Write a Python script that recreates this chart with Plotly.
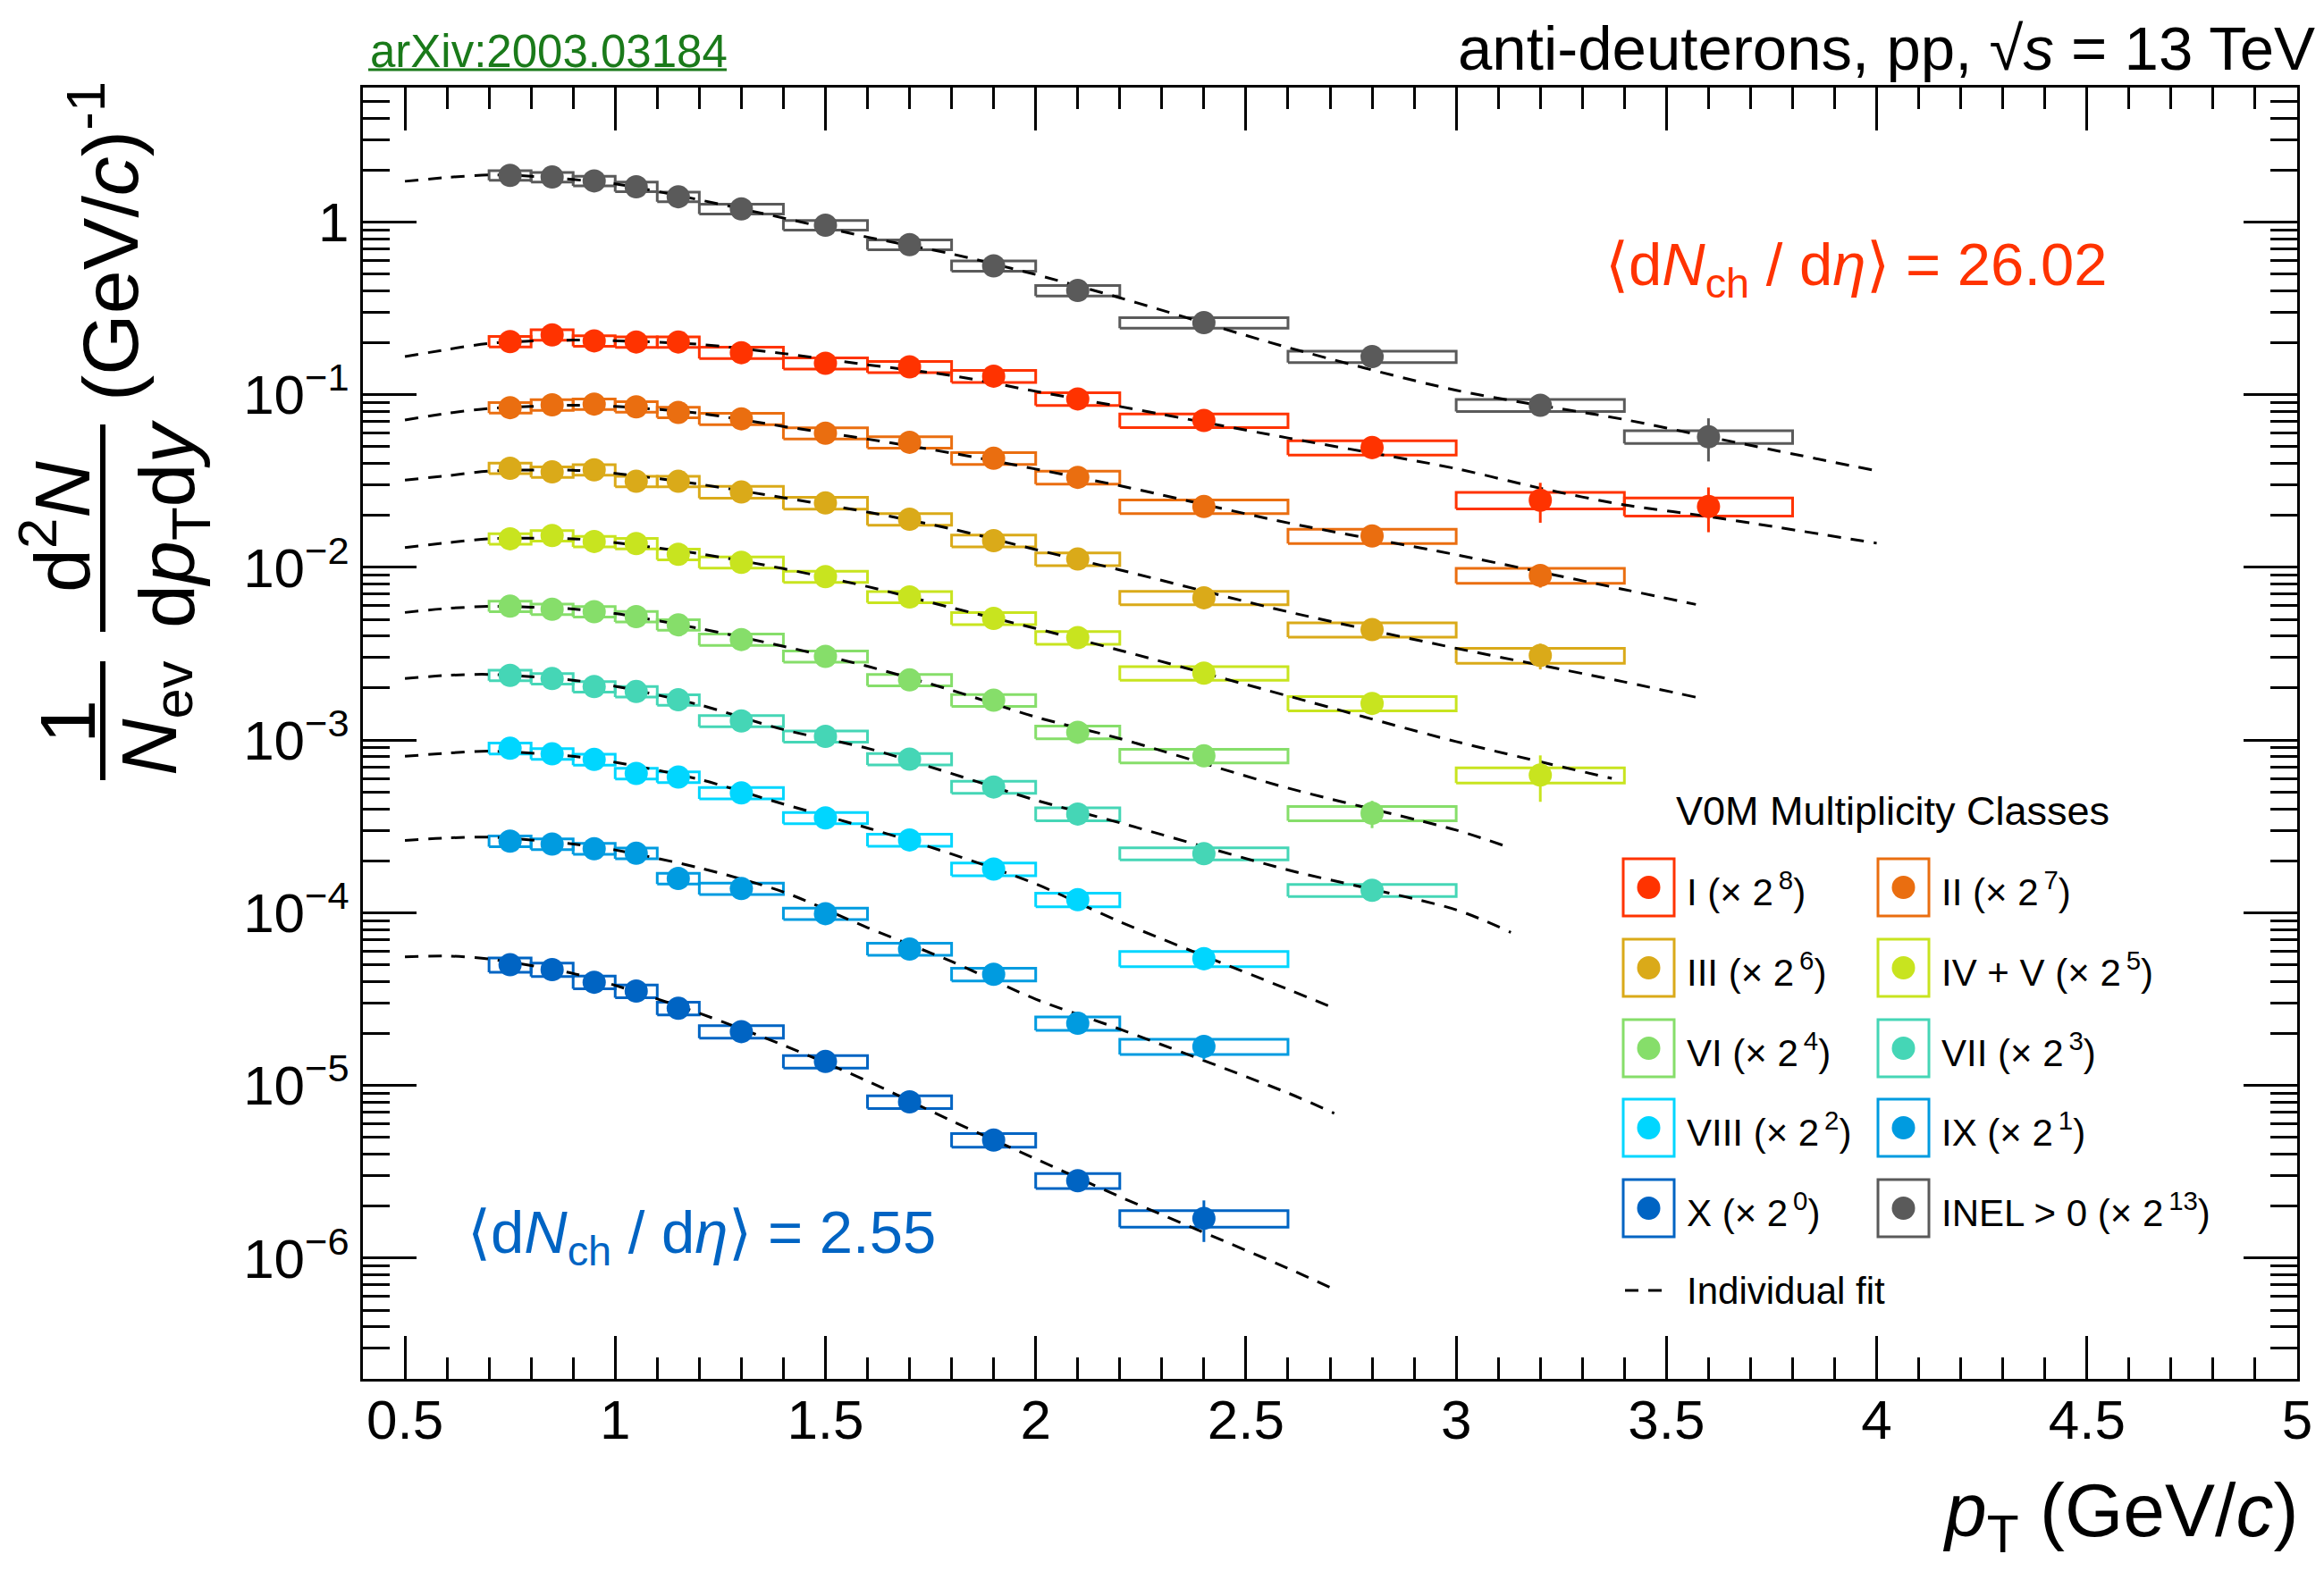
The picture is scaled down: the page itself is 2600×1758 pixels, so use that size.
import math
import plotly.graph_objects as go

# ---------------------------------------------------------------- data
# pT bins (GeV/c)
BIN_LO = [0.7, 0.8, 0.9, 1.0, 1.1, 1.2, 1.4, 1.6, 1.8, 2.0, 2.2, 2.6, 3.0, 3.4]
BIN_HI = [0.8, 0.9, 1.0, 1.1, 1.2, 1.4, 1.6, 1.8, 2.0, 2.2, 2.6, 3.0, 3.4, 3.8]

CLASS_LABELS = ["I", "II", "III", "IV + V", "VI", "VII", "VIII", "IX", "X", "INEL > 0"]
SCALE_EXPONENTS = [8, 7, 6, 5, 4, 3, 2, 1, 0, 13]
CLASS_COLORS = ["#FF3300", "#EA6E10", "#DAAA19", "#C8E41F", "#86DE6A",
                "#45D6B6", "#00D6FF", "#009BE0", "#0064C3", "#5A5A5A"]

# scaled yields 1/Nev d2N/(dpT dy), one entry per pT bin
YIELD_I = [0.203, 0.222, 0.205, 0.202, 0.202, 0.175, 0.152, 0.145, 0.128, 0.0945, 0.0709, 0.0494, 0.0245, 0.0225]
YIELD_II = [0.0841, 0.0873, 0.0882, 0.0850, 0.0789, 0.0725, 0.0598, 0.0530, 0.0428, 0.0332, 0.0225, 0.0152, 0.00898]
YIELD_III = [0.0375, 0.0357, 0.0367, 0.0315, 0.0315, 0.0273, 0.0236, 0.0190, 0.01426, 0.01117, 0.00667, 0.00436, 0.00309]
YIELD_IV_V = [0.01464, 0.01528, 0.01413, 0.01374, 0.01190, 0.01070, 0.00884, 0.00674, 0.00506, 0.00392, 0.00244, 0.00163, 0.000627]
YIELD_VI = [0.00596, 0.00572, 0.00554, 0.00519, 0.00465, 0.00382, 0.00305, 0.00223, 0.00170, 0.00111, 0.00081, 0.000377]
YIELD_VII = [0.00237, 0.00227, 0.00204, 0.00191, 0.00171, 0.00129, 0.00105, 0.000776, 0.000535, 0.000373, 0.000220, 0.000135]
YIELD_VIII = [0.000896, 0.000832, 0.000772, 0.000641, 0.000611, 0.000494, 0.000354, 0.000264, 0.000179, 0.000119, 5.42e-5]
YIELD_IX = [0.000260, 0.000250, 0.000235, 0.000221, 0.000158, 0.000138, 9.88e-5, 6.16e-5, 4.40e-5, 2.29e-5, 1.68e-5]
YIELD_X = [5.00e-5, 4.69e-5, 3.96e-5, 3.52e-5, 2.80e-5, 2.05e-5, 1.376e-5, 8.04e-6, 4.83e-6, 2.81e-6, 1.70e-6]
YIELD_INEL = [1.86, 1.82, 1.73, 1.60, 1.40, 1.19, 0.958, 0.739, 0.557, 0.401, 0.261, 0.166, 0.0868, 0.057]

# relative statistical uncertainties
STAT_I = [0.05, 0.04, 0.04, 0.04, 0.04, 0.04, 0.05, 0.06, 0.07, 0.08, 0.10, 0.14, 0.26, 0.29]
STAT_II = [0.04, 0.04, 0.04, 0.04, 0.04, 0.04, 0.05, 0.05, 0.06, 0.07, 0.09, 0.11, 0.15]
STAT_III = [0.04, 0.04, 0.04, 0.04, 0.04, 0.04, 0.05, 0.05, 0.06, 0.07, 0.09, 0.12, 0.17]
STAT_IV_V = [0.03, 0.03, 0.03, 0.03, 0.03, 0.03, 0.04, 0.05, 0.06, 0.07, 0.09, 0.12, 0.30]
STAT_VI = [0.04, 0.04, 0.04, 0.04, 0.04, 0.05, 0.05, 0.06, 0.07, 0.08, 0.10, 0.18]
STAT_VII = [0.04, 0.04, 0.04, 0.04, 0.05, 0.05, 0.06, 0.06, 0.07, 0.09, 0.11, 0.14]
STAT_VIII = [0.04, 0.04, 0.04, 0.05, 0.05, 0.05, 0.06, 0.07, 0.08, 0.10, 0.14]
STAT_IX = [0.04, 0.04, 0.05, 0.05, 0.05, 0.06, 0.06, 0.07, 0.08, 0.11, 0.16]
STAT_X = [0.05, 0.05, 0.05, 0.06, 0.06, 0.06, 0.07, 0.08, 0.10, 0.13, 0.27]
STAT_INEL = [0.02, 0.02, 0.02, 0.02, 0.02, 0.02, 0.02, 0.03, 0.03, 0.04, 0.05, 0.08, 0.13, 0.28]

# relative systematic uncertainties (box half-heights)
SYST_I = [0.07, 0.07, 0.07, 0.07, 0.07, 0.075, 0.075, 0.075, 0.08, 0.085, 0.09, 0.095, 0.11, 0.12]
SYST_II = [0.07, 0.07, 0.07, 0.07, 0.07, 0.075, 0.075, 0.075, 0.08, 0.085, 0.09, 0.095, 0.10]
SYST_III = [0.07, 0.07, 0.07, 0.07, 0.07, 0.078, 0.078, 0.078, 0.08, 0.085, 0.09, 0.095, 0.10]
SYST_IV_V = [0.07, 0.07, 0.07, 0.07, 0.07, 0.075, 0.075, 0.075, 0.08, 0.085, 0.09, 0.095, 0.10]
SYST_VI = [0.07, 0.07, 0.07, 0.07, 0.07, 0.075, 0.075, 0.075, 0.08, 0.085, 0.09, 0.095]
SYST_VII = [0.07, 0.07, 0.07, 0.07, 0.07, 0.075, 0.075, 0.075, 0.08, 0.085, 0.08, 0.08]
SYST_VIII = [0.072, 0.072, 0.072, 0.072, 0.072, 0.075, 0.075, 0.08, 0.085, 0.09, 0.10]
SYST_IX = [0.072, 0.072, 0.072, 0.072, 0.072, 0.075, 0.075, 0.08, 0.085, 0.09, 0.10]
SYST_X = [0.095, 0.09, 0.085, 0.085, 0.085, 0.083, 0.083, 0.085, 0.09, 0.10, 0.11]
SYST_INEL = [0.064, 0.064, 0.064, 0.064, 0.064, 0.065, 0.065, 0.065, 0.068, 0.07, 0.07, 0.075, 0.08, 0.085]

# individual fit curves (pT, value)
FIT_X_I = [0.5, 0.6, 0.7, 0.9, 1.2, 1.4, 1.6, 1.8, 2.0, 2.2, 2.6, 3.0, 3.2, 3.4, 3.6, 4.0]
FIT_Y_I = [0.166, 0.1826, 0.198, 0.207, 0.1956, 0.173, 0.149, 0.129, 0.1046, 0.0854, 0.0561, 0.0373, 0.0287, 0.0230, 0.0197, 0.0138]
FIT_X_II = [0.5, 0.6, 0.7, 0.9, 1.0, 1.2, 1.4, 1.6, 1.8, 2.0, 2.2, 2.6, 3.0, 3.4, 3.57]
FIT_Y_II = [0.0713, 0.078, 0.0832, 0.0868, 0.0855, 0.078, 0.0655, 0.0553, 0.0459, 0.0371, 0.0297, 0.0181, 0.01183, 0.00744, 0.0061]
FIT_X_III = [0.5, 0.6, 0.7, 0.9, 1.0, 1.2, 1.4, 1.6, 1.8, 2.0, 2.2, 2.6, 3.0, 3.4, 3.57]
FIT_Y_III = [0.032, 0.0339, 0.0361, 0.0365, 0.035, 0.0303, 0.0253, 0.0209, 0.0167, 0.01268, 0.00967, 0.00553, 0.0034, 0.00217, 0.00177]
FIT_X_IV_V = [0.5, 0.6, 0.7, 0.9, 1.0, 1.2, 1.4, 1.6, 1.8, 2.0, 2.2, 2.6, 3.0, 3.37]
FIT_Y_IV_V = [0.01303, 0.01388, 0.01464, 0.01464, 0.0139, 0.0120, 0.00983, 0.00774, 0.00584, 0.00443, 0.00331, 0.00180, 0.00098, 0.00060]
FIT_X_VI = [0.5, 0.6, 0.7, 0.9, 1.0, 1.2, 1.4, 1.6, 1.8, 2.0, 2.2, 2.6, 3.0, 3.13]
FIT_Y_VI = [0.00548, 0.00578, 0.00594, 0.00574, 0.0054, 0.00443, 0.00349, 0.002675, 0.001944, 0.00136, 0.00102, 0.000527, 0.000301, 0.000237]
FIT_X_VII = [0.5, 0.6, 0.7, 0.9, 1.0, 1.2, 1.4, 1.6, 1.8, 2.0, 2.2, 2.6, 3.0, 3.13]
FIT_Y_VII = [0.00227, 0.00237, 0.0024, 0.00222, 0.00205, 0.0016, 0.00115, 0.000896, 0.00064, 0.000449, 0.000332, 0.000177, 0.000104, 7.7e-5]
FIT_X_VIII = [0.5, 0.6, 0.7, 0.9, 1.0, 1.2, 1.4, 1.6, 1.8, 2.0, 2.2, 2.6, 2.71]
FIT_Y_VIII = [0.000805, 0.00084, 0.000863, 0.000805, 0.000744, 0.000592, 0.000426, 0.00031, 0.000219, 0.000147, 8.88e-5, 3.6e-5, 2.8e-5]
FIT_X_IX = [0.5, 0.6, 0.7, 0.9, 1.0, 1.2, 1.4, 1.6, 1.8, 2.0, 2.2, 2.6, 2.71]
FIT_Y_IX = [0.000262, 0.000271, 0.000274, 0.00025, 0.000231, 0.000182, 0.000132, 8.2e-5, 5.22e-5, 3.16e-5, 2.12e-5, 9.04e-6, 6.9e-6]
FIT_X_X = [0.5, 0.6, 0.7, 0.9, 1.0, 1.2, 1.4, 1.6, 1.8, 2.0, 2.2, 2.6, 2.71]
FIT_Y_X = [5.56e-5, 5.62e-5, 5.4e-5, 4.45e-5, 3.8e-5, 2.62e-5, 1.71e-5, 1.06e-5, 6.24e-6, 3.76e-6, 2.27e-6, 8.73e-7, 6.6e-7]
FIT_X_INEL = [0.5, 0.6, 0.7, 0.8, 1.0, 1.17, 1.4, 1.6, 1.8, 2.0, 2.2, 2.6, 3.0, 3.4, 3.6, 4.0]
FIT_Y_INEL = [1.72, 1.81, 1.87, 1.84, 1.66, 1.39, 1.054, 0.817, 0.653, 0.496, 0.364, 0.1875, 0.106, 0.0718, 0.057, 0.0362]

Y_TICK_VALUES = [1e-6, 1e-5, 1e-4, 1e-3, 1e-2, 1e-1, 1]
Y_TICK_TEXT = ["10<sup>\u22126</sup>", "10<sup>\u22125</sup>", "10<sup>\u22124</sup>",
               "10<sup>\u22123</sup>", "10<sup>\u22122</sup>", "10<sup>\u22121</sup>", "1"]

SERIES = [
    (YIELD_I, STAT_I, SYST_I, FIT_X_I, FIT_Y_I),
    (YIELD_II, STAT_II, SYST_II, FIT_X_II, FIT_Y_II),
    (YIELD_III, STAT_III, SYST_III, FIT_X_III, FIT_Y_III),
    (YIELD_IV_V, STAT_IV_V, SYST_IV_V, FIT_X_IV_V, FIT_Y_IV_V),
    (YIELD_VI, STAT_VI, SYST_VI, FIT_X_VI, FIT_Y_VI),
    (YIELD_VII, STAT_VII, SYST_VII, FIT_X_VII, FIT_Y_VII),
    (YIELD_VIII, STAT_VIII, SYST_VIII, FIT_X_VIII, FIT_Y_VIII),
    (YIELD_IX, STAT_IX, SYST_IX, FIT_X_IX, FIT_Y_IX),
    (YIELD_X, STAT_X, SYST_X, FIT_X_X, FIT_Y_X),
    (YIELD_INEL, STAT_INEL, SYST_INEL, FIT_X_INEL, FIT_Y_INEL),
]

# ---------------------------------------------------------------- canvas
W, H = 2600, 1758
ML, MR, MT, MB = 406, 30, 98, 215
PW, PH = W - ML - MR, H - MT - MB
FONT = "Liberation Sans, Arial, Helvetica, sans-serif"


def px_x(px):
    return (px - ML) / PW


def px_y(py):
    return (H - MB - py) / PH


fig = go.Figure()

# systematic-uncertainty boxes
for (vals, stat, syst, fx, fy), col in zip(SERIES, CLASS_COLORS):
    bx, by = [], []
    for lo, hi, v, s in zip(BIN_LO, BIN_HI, vals, syst):
        bx += [lo, hi, hi, lo, lo, None]
        by += [v * (1 - s), v * (1 - s), v * (1 + s), v * (1 + s), v * (1 - s), None]
    fig.add_trace(go.Scatter(x=bx, y=by, mode="lines", line=dict(color=col, width=3),
                             hoverinfo="skip", showlegend=False))

# individual fits
for vals, stat, syst, fx, fy in SERIES:
    fig.add_trace(go.Scatter(x=fx, y=fy, mode="lines",
                             line=dict(color="black", width=3, dash="15px,11px",
                                       shape="spline", smoothing=0.8),
                             hoverinfo="skip", showlegend=False))

# data points with statistical errors
for (vals, stat, syst, fx, fy), col, lab in zip(SERIES, CLASS_COLORS, CLASS_LABELS):
    n = len(vals)
    centers = [(lo + hi) / 2 for lo, hi in zip(BIN_LO[:n], BIN_HI[:n])]
    fig.add_trace(go.Scatter(
        x=centers, y=vals, mode="markers", name=lab,
        marker=dict(symbol="circle", size=26, color=col, line=dict(width=0)),
        error_y=dict(type="data", array=[v * e for v, e in zip(vals, stat)],
                     color=col, thickness=3, width=0),
        showlegend=False))

# ---------------------------------------------------------------- axes
minor_y = [k * 10.0 ** e for e in range(-7, 1) for k in range(2, 10)
           if 2e-7 <= k * 10.0 ** e <= 6]

fig.update_xaxes(
    range=[0.4, 5.0], tick0=0.5, dtick=0.5,
    ticks="inside", ticklen=48, tickwidth=3, tickcolor="black",
    showline=True, linewidth=3, linecolor="black", mirror="allticks",
    showgrid=False, zeroline=False,
    tickfont=dict(family=FONT, size=62, color="black"),
    ticklabelstandoff=-10,
    minor=dict(dtick=0.1, tick0=0.4, ticks="inside", ticklen=24, tickwidth=3,
               tickcolor="black", showgrid=False),
)
fig.update_yaxes(
    type="log", range=[math.log10(2e-7), math.log10(6)],
    tickmode="array", tickvals=Y_TICK_VALUES, ticktext=Y_TICK_TEXT,
    ticks="inside", ticklen=60, tickwidth=3, tickcolor="black",
    showline=True, linewidth=3, linecolor="black", mirror="allticks",
    showgrid=False, zeroline=False,
    tickfont=dict(family=FONT, size=62, color="black"),
    ticklabelstandoff=0,
    minor=dict(tickmode="array", tickvals=minor_y, ticks="inside", ticklen=30,
               tickwidth=3, tickcolor="black", showgrid=False),
)

# ---------------------------------------------------------------- text
ann = []
shapes = []


def text(x, y, s, size, color="black", xanchor="left", yanchor="middle", angle=0):
    ann.append(dict(x=px_x(x), y=px_y(y), xref="paper", yref="paper", text=s,
                    showarrow=False, xanchor=xanchor, yanchor=yanchor, textangle=angle,
                    font=dict(family=FONT, size=size, color=color)))


# y-axis title, built as two stacked fractions
text(75, 808, "1", 88, xanchor="center", angle=-90)
text(172, 804, "<i>N</i><sub>ev</sub>", 88, xanchor="center", angle=-90)
text(63, 590, "d<sup>2</sup><i>N</i>", 88, xanchor="center", angle=-90)
text(192, 587, "d<i>p</i><sub>T</sub>d<i>y</i>", 88, xanchor="center", angle=-90)
text(117, 270, "(GeV/<i>c</i>)<sup>-1</sup>", 88, xanchor="center", angle=-90)
for y0, y1 in [(740, 873), (475, 707)]:
    shapes.append(dict(type="line", xref="paper", yref="paper", x0=px_x(115), x1=px_x(115),
                       y0=px_y(y0), y1=px_y(y1), line=dict(color="black", width=6)))

# x-axis title
text(2573, 1696, "<i>p</i><sub>T</sub> (GeV/<i>c</i>)", 84, xanchor="right")

# header and reference
text(1629, 55, "anti-deuterons, pp, \u221a<i>s</i> = 13 TeV", 69)
text(412, 57, "arXiv:2003.03184", 51, color="#1A7A1A")
shapes.append(dict(type="line", xref="paper", yref="paper", x0=px_x(412), x1=px_x(813),
                   y0=px_y(78), y1=px_y(78), line=dict(color="#1A7A1A", width=3)))

# multiplicity annotations
text(1794, 300, "\u27e8d<i>N</i><sub>ch</sub> / d<i>\u03b7</i>\u27e9 = 26.02", 67, color=CLASS_COLORS[0])
text(521, 1383, "\u27e8d<i>N</i><sub>ch</sub> / d<i>\u03b7</i>\u27e9 = 2.55", 67, color=CLASS_COLORS[8])

# legend
text(1873, 908, "V0M Multiplicity Classes", 45)
row_y = [993, 1083, 1173, 1262, 1352]
col_box = [1816, 2101]
for i, (lab, ex, col) in enumerate(zip(CLASS_LABELS, SCALE_EXPONENTS, CLASS_COLORS)):
    r, c = divmod(i, 2)
    bx0, cy = col_box[c], row_y[r]
    shapes.append(dict(type="rect", xref="paper", yref="paper",
                       x0=px_x(bx0), x1=px_x(bx0 + 57), y0=px_y(cy + 32), y1=px_y(cy - 32),
                       line=dict(color=col, width=3)))
    shapes.append(dict(type="circle", xref="paper", yref="paper",
                       x0=px_x(bx0 + 28.5 - 13), x1=px_x(bx0 + 28.5 + 13),
                       y0=px_y(cy + 13), y1=px_y(cy - 13),
                       fillcolor=col, line=dict(width=0)))
    text(bx0 + 69, cy + 2, f"{lab} (\u00d7 2<sup>\u2009{ex}</sup>)", 42)
shapes.append(dict(type="line", xref="paper", yref="paper", x0=px_x(1818), x1=px_x(1860),
                   y0=px_y(1444), y1=px_y(1444),
                   line=dict(color="black", width=3, dash="15px,11px")))
text(1885, 1444, "Individual fit", 42)

fig.update_layout(
    width=W, height=H,
    margin=dict(l=ML, r=MR, t=MT, b=MB, autoexpand=False),
    paper_bgcolor="white", plot_bgcolor="white",
    font=dict(family=FONT, color="black"),
    annotations=ann, shapes=shapes,
    showlegend=False,
)

fig.write_html("out.html")
